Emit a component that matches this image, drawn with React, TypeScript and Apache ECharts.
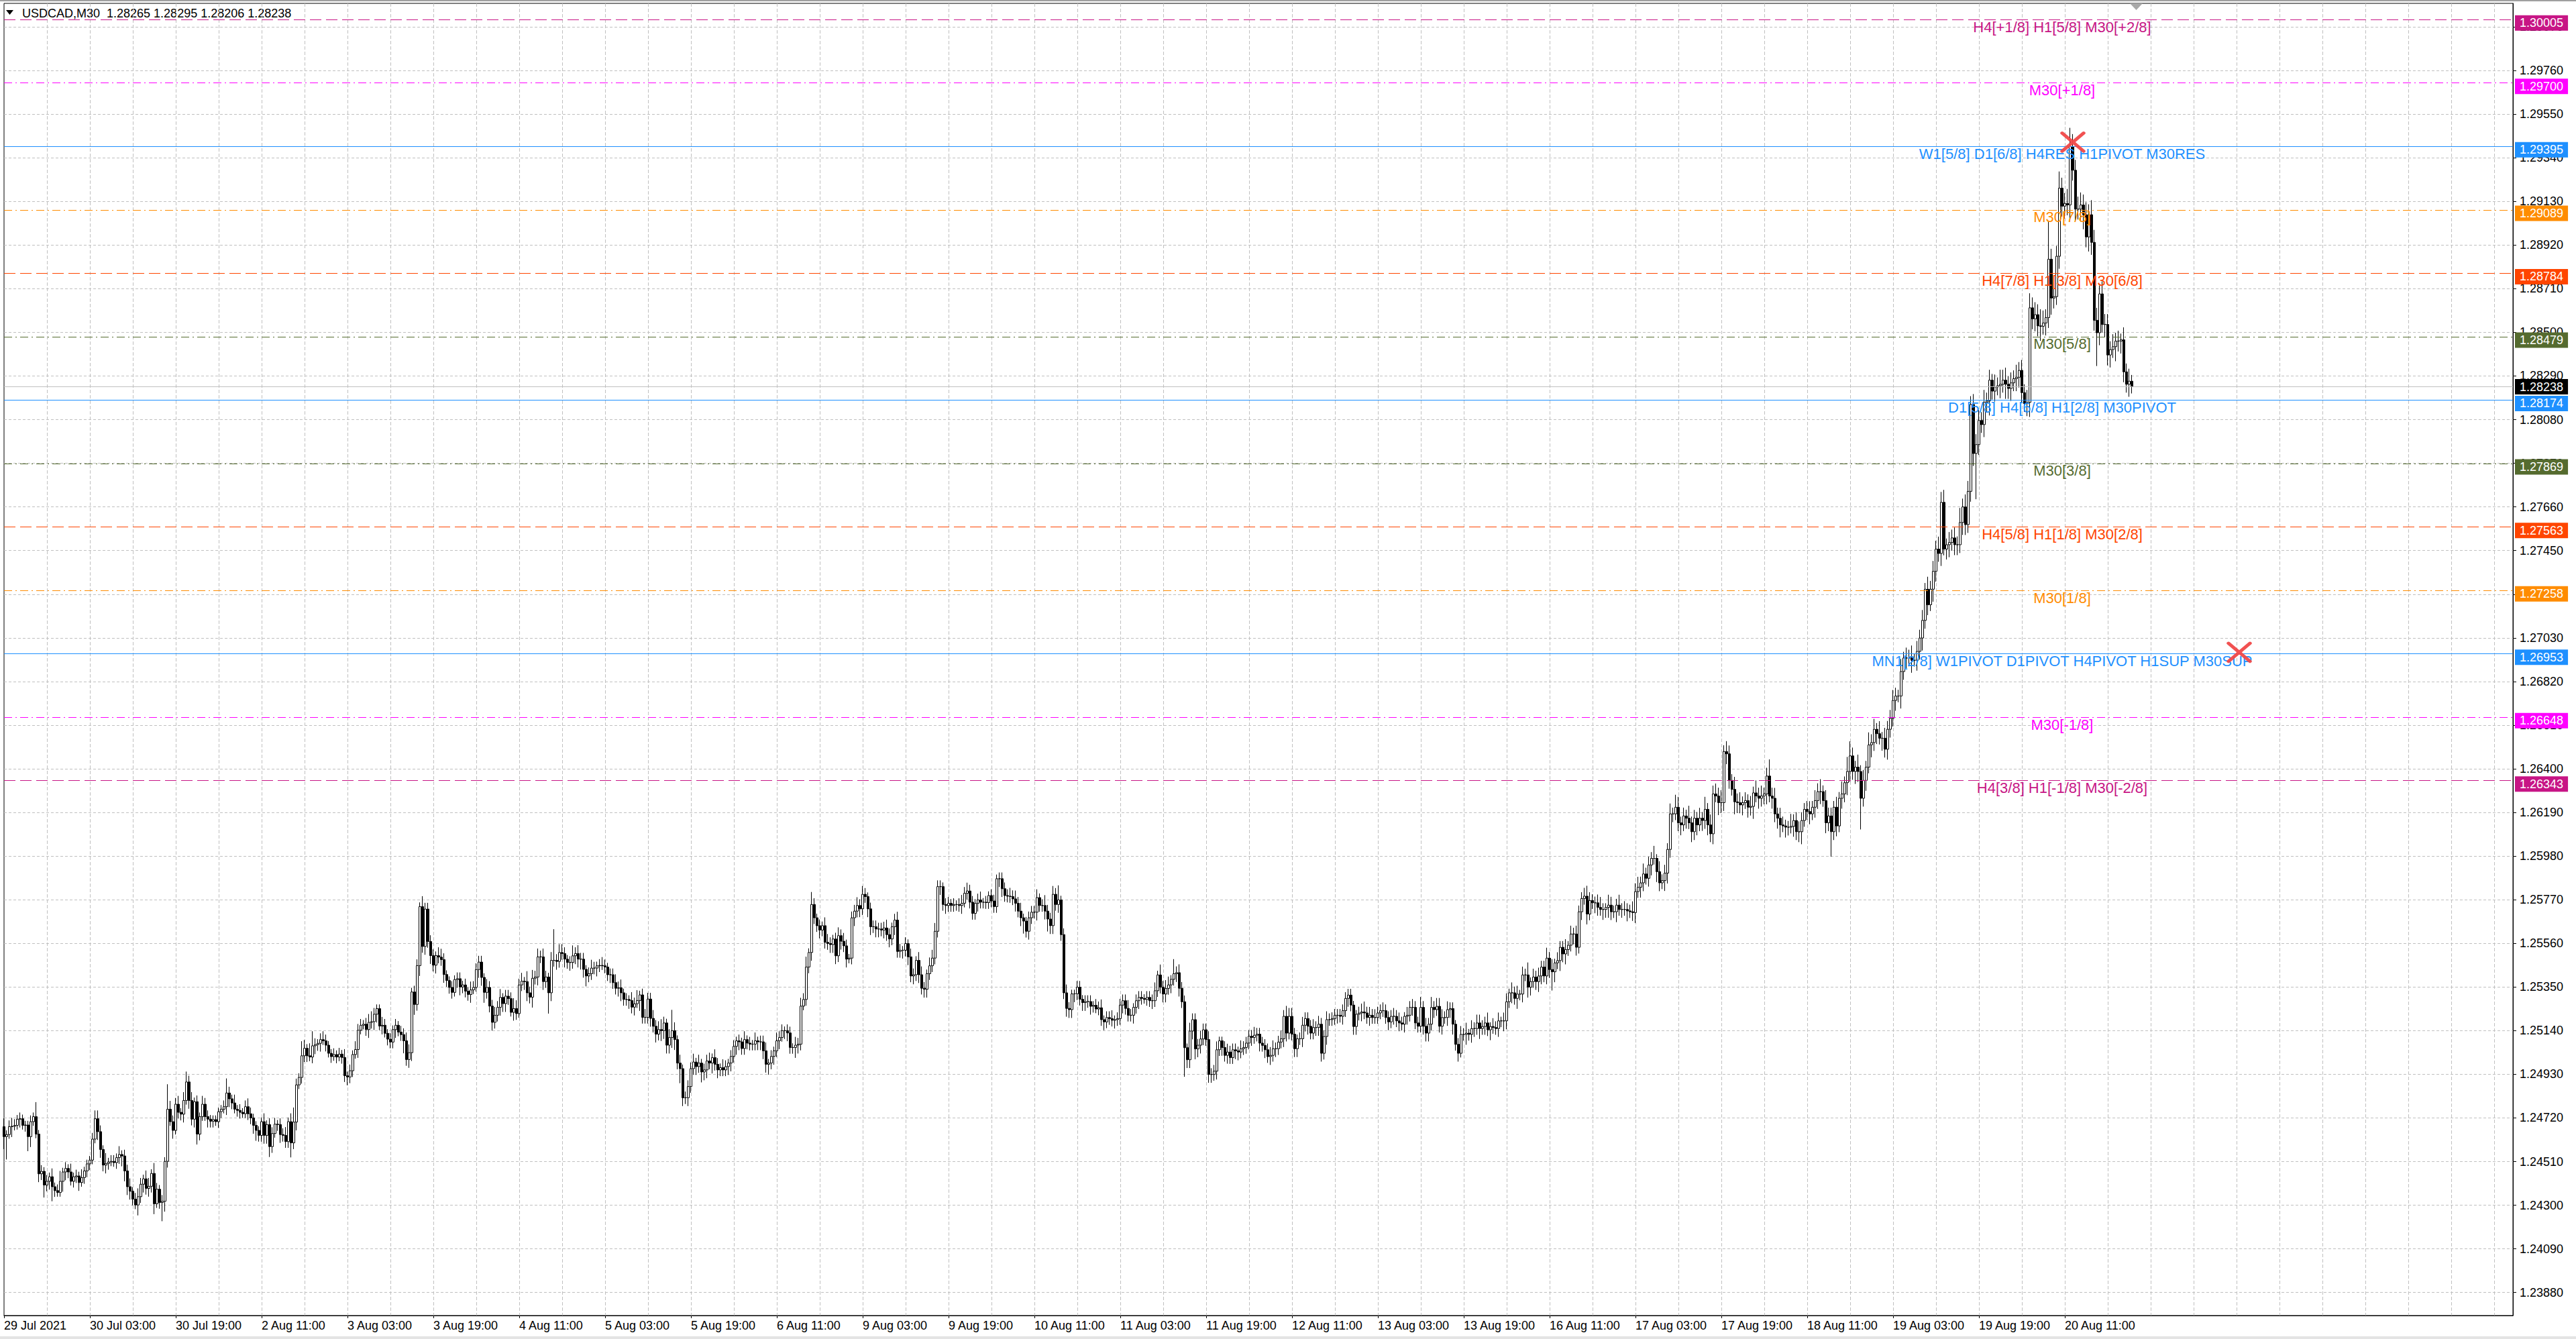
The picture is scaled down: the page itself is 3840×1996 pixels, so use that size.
import React, { useEffect, useRef } from "react";
import * as echarts from "echarts";

const FONT = "'Liberation Sans', Arial, Helvetica, sans-serif";

const titleText = "USDCAD,M30  1.28265 1.28295 1.28206 1.28238";

// time-axis tick labels (one every 32 M30 bars)
const xTickLabels = [
  "29 Jul 2021", "30 Jul 03:00", "30 Jul 19:00", "2 Aug 11:00", "3 Aug 03:00", "3 Aug 19:00",
  "4 Aug 11:00", "5 Aug 03:00", "5 Aug 19:00", "6 Aug 11:00", "9 Aug 03:00", "9 Aug 19:00",
  "10 Aug 11:00", "11 Aug 03:00", "11 Aug 19:00", "12 Aug 11:00", "13 Aug 03:00", "13 Aug 19:00",
  "16 Aug 11:00", "17 Aug 03:00", "17 Aug 19:00", "18 Aug 11:00", "19 Aug 03:00", "19 Aug 19:00",
  "20 Aug 11:00",
];
const BARS_PER_LABEL = 32;
const BARS_PER_GRID = 16;
const TOTAL_SLOTS = 936; // bars + empty right shift

// price-axis tick labels
const yTicks = [
  1.2388, 1.2409, 1.243, 1.2451, 1.2472, 1.2493, 1.2514, 1.2535, 1.2556, 1.2577,
  1.2598, 1.2619, 1.264, 1.2661, 1.2682, 1.2703, 1.2724, 1.2745, 1.2766, 1.2787,
  1.2808, 1.2829, 1.285, 1.2871, 1.2892, 1.2913, 1.2934, 1.2955, 1.2976, 1.2997,
];
const Y_MIN = 1.237692;
const Y_MAX = 1.30083;

// closes, in 0.00001 above 1.20000
const firstOpen = 4678;
const closesWeek1 = [
  4630, 4640, 4678, 4680, 4684, 4714, 4716, 4684, 4686, 4630, 4702, 4726, 4642, 4451, 4463, 4397,
  4415, 4437, 4389, 4370, 4361, 4415, 4460, 4477, 4460, 4415, 4437, 4441, 4409, 4433, 4465, 4499,
  4517, 4618, 4716, 4654, 4568, 4493, 4501, 4508, 4511, 4505, 4529, 4544, 4537, 4465, 4389, 4367,
  4329, 4301, 4341, 4401, 4427, 4381, 4391, 4453, 4307, 4377, 4313, 4319, 4511, 4762, 4702, 4660,
  4786, 4747, 4738, 4804, 4893, 4804, 4714, 4798, 4642, 4726,
];
const closesWeek2 = [
  4786, 4726, 4714, 4704, 4712, 4702,
  4750, 4762, 4774, 4840, 4812, 4792, 4762, 4756, 4747, 4740, 4774, 4740, 4720, 4684, 4660, 4636,
  4702, 4636, 4688, 4582, 4645, 4690, 4688, 4640, 4636, 4606, 4702, 4600, 4700, 4879, 4915, 5019,
  5055, 5019, 5013, 5067, 5073, 5079, 5097, 5091, 5070, 5031, 5015, 5025, 5013, 5027, 5011, 4923,
  4917, 4947, 5025, 5049, 5142, 5166, 5171, 5145, 5180, 5183, 5219, 5246, 5162, 5166, 5127, 5099,
  5085, 5145, 5166, 5133, 5121, 5091, 5001, 5034, 5326, 5266, 5453, 5737, 5545, 5725, 5569, 5501,
  5455, 5501, 5494, 5482, 5410, 5381, 5348, 5324, 5386, 5390, 5350, 5360, 5330, 5314, 5336, 5348,
  5434, 5470, 5396, 5324, 5348, 5258, 5180, 5214, 5252, 5300, 5270, 5306, 5294, 5228, 5246, 5222,
  5360, 5378, 5376, 5322, 5301, 5392, 5398, 5495, 5495, 5376, 5398, 5322, 5478, 5478, 5473, 5516,
  5511, 5484, 5468, 5468, 5500, 5511, 5484, 5484, 5435, 5403, 5414, 5441, 5441, 5452, 5454, 5452,
  5446, 5409, 5409, 5371, 5344, 5346, 5322, 5290, 5290, 5285, 5253, 5269, 5285, 5312, 5204, 5204,
  5292, 5199, 5161, 5123, 5145, 5140, 5177, 5070, 5107, 5140, 5097, 4984, 4957, 4817, 4817, 4871,
  4957, 4989, 4967, 4984, 4941, 4951, 4994, 4984, 5010, 4978, 4951, 4962, 4951, 4967, 4984, 5016,
  5064, 5091, 5086, 5054, 5097, 5080, 5075, 5075, 5091, 5086, 5086, 5043, 4978, 4984, 5016, 5043,
  5091, 5107, 5140, 5140, 5129, 5059, 5059, 5070, 5075, 5258, 5290, 5446, 5516, 5747, 5683, 5645,
  5624, 5645, 5565, 5559, 5554, 5581, 5500, 5597, 5570, 5548,
];
const closesWeek3 = [
  5484, 5489, 5683, 5715, 5742, 5726,
  5796, 5785, 5726, 5640, 5640, 5629, 5629, 5624, 5634, 5602, 5581, 5640, 5672, 5521, 5527, 5527,
  5559, 5495, 5403, 5409, 5478, 5409, 5344, 5339, 5414, 5452, 5489, 5618, 5833, 5833, 5747, 5742,
  5753, 5742, 5747, 5747, 5742, 5753, 5801, 5812, 5758, 5704, 5753, 5769, 5758, 5758, 5756, 5790,
  5764, 5737, 5871, 5871, 5823, 5790, 5787, 5785, 5774, 5753, 5715, 5683, 5667, 5618, 5683, 5710,
  5710, 5780, 5742, 5742, 5715, 5677, 5645, 5796, 5747, 5769, 5602, 5322, 5247, 5241, 5317, 5317,
  5349, 5291, 5275, 5280, 5280, 5257, 5262, 5244, 5250, 5193, 5182, 5203, 5198, 5190, 5193, 5198,
  5263, 5284, 5247, 5214, 5214, 5252, 5284, 5300, 5295, 5290, 5300, 5284, 5284, 5332, 5408, 5349,
  5316, 5343, 5360, 5387, 5414, 5419, 5344, 5279, 5058, 5000, 5138, 5193, 5052, 5070, 5100, 5144,
  5097, 4929, 4929, 4945, 5048, 5091, 5059, 5021, 5037, 5010, 5048, 5043, 5037, 5053, 5059, 5080,
  5113, 5107, 5118, 5123, 5080, 5069, 5048, 5015, 5021, 5053, 5053, 5085, 5101, 5209, 5128, 5209,
  5123, 5053, 5101, 5101, 5166, 5198, 5161, 5128, 5155, 5155, 5171, 5031, 5112, 5193, 5193, 5198,
  5214, 5214, 5209, 5236, 5295, 5311, 5263, 5160, 5219, 5225, 5230, 5225, 5203, 5214, 5203, 5203,
  5225, 5236, 5236, 5203, 5182, 5209, 5209, 5187, 5177, 5171, 5209, 5214, 5252, 5252, 5177, 5161,
  5252, 5161, 5128, 5171, 5252, 5241, 5257, 5161, 5203, 5203, 5241, 5246, 5171, 5074, 5031, 5122,
  5122, 5128, 5122, 5150, 5150, 5177, 5150, 5160, 5177, 5144,
];
const closesWeek4 = [
  5160, 5155, 5150, 5187, 5187, 5187,
  5279, 5322, 5322, 5295, 5316, 5316, 5408, 5408, 5349, 5376, 5398, 5376, 5403, 5446, 5403, 5489,
  5434, 5423, 5466, 5477, 5541, 5509, 5530, 5551, 5605, 5605, 5541, 5712, 5776, 5787, 5701, 5766,
  5755, 5755, 5733, 5723, 5723, 5733, 5744, 5712, 5712, 5744, 5723, 5723, 5723, 5716, 5712, 5708,
  5809, 5830, 5851, 5894, 5873, 5937, 5969, 5969, 5905, 5851, 5862, 5898, 6012, 6183, 6183, 6215,
  6140, 6130, 6173, 6162, 6140, 6097, 6162, 6130, 6162, 6151, 6205, 6130, 6087, 6279, 6269, 6237,
  6237, 6483, 6472, 6344, 6301, 6241, 6237, 6226, 6237, 6247, 6215, 6219, 6284, 6269, 6258, 6269,
  6279, 6365, 6269, 6258, 6183, 6162, 6130, 6125, 6119, 6119, 6123, 6151, 6097, 6097, 6151, 6205,
  6194, 6183, 6215, 6247, 6290, 6290, 6247, 6140, 6173, 6097, 6215, 6125, 6258, 6279, 6333, 6387,
  6462, 6387, 6408, 6387, 6258, 6344, 6408, 6515, 6526, 6590, 6569, 6547, 6547, 6494, 6590, 6643,
  6729, 6750, 6750, 6868, 6933, 6933, 6933, 6922, 6922, 6965, 7029, 7114, 7264, 7189, 7264, 7350,
  7457, 7436, 7682, 7457, 7478, 7489, 7511, 7478, 7478, 7585, 7660, 7575, 7735, 8153, 7917, 7960,
  8076, 8056, 8163, 8170, 8270, 8217, 8237, 8243, 8250, 8270, 8250, 8230, 8257, 8277, 8284, 8317,
  8210, 8157, 8163, 8618, 8565, 8585, 8531, 8529, 8545, 8571, 8852, 8665, 8672, 8866, 9194, 9107,
  9120, 9113, 9394, 9280, 9093, 9093, 9113, 9066, 8959, 9066, 8933, 8558, 8498, 8685, 8538, 8538,
  8391, 8417, 8431, 8458, 8458, 8464, 8310, 8250, 8265, 8238,
];
// last bar exactly as in the title: O H L C
const lastBar = { open: 8265, high: 8295, low: 8206, close: 8238 };

// wick lengths in pips (base-36 digit per bar), 16 bars per string
const wickUp = [
  "4234323222327232", "3242352324232422", "2344325233242334", "2343244253232c43",
  "3424534232433222", "2237324232343222", "2423332334247327", "4267323432232324",
  "2324332345322432", "3232334423325333", "3244322323323243", "3332433434233354",
  "3425343434324f34", "4323534332343234", "3233434232435234", "334345324a424233",
  "3424233424324323", "3232423242334232", "4332332434352632", "3244323434323343",
  "4323333334323432", "3243244324443323", "3232343433234232", "3323333434342233",
  "3423533437234322", "3323332334233423", "3334323332333425", "3442734332433343",
  "3433422343332433", "3343333344334354", "4323433343433433", "3333333223453434",
  "3343334343243433", "5343534443433234", "3524344335243424", "4253424362434335",
  "3524335243433454", "3345325433534335", "4535343625343536", "5343634353635454",
  "6354364534353645", "3484535433634543", "4535463544353637", "7436353645363544",
  "5436354635453645", "4656354547465455", "5464536475645464", "5467565864i57585",
  "5796566565766465", "5464536463",
];
const wickDown = [
  "6b25224237522436", "3473225432334233", "3224434322335544", "3253434352395324",
  "2334243453224332", "3324432332233453", "3445323433373423", "3323434232323233",
  "4332422343442423", "3342363445353434", "3433433324433342", "2445334334443243",
  "23443534343a4343", "3434344545333432", "3343344334342533", "3434354445537434",
  "3343544353433344", "3443333334444534", "3424433543233433", "4333444343423434",
  "3344344343434334", "3434343443333434", "3333342333343333", "3334433334346343",
  "3433464434334444", "3344343233433343", "3433343432334333", "44343443e4445443",
  "3443434343344333", "3433434343433443", "3443434334443433", "3434343443433433",
  "3333434343443433", "3444343343445342", "3534435343533435", "4353534354345434",
  "4953545335434353", "3543545435343534", "5354345354355443", "4535354535454536",
  "5454365453546354", "4535456354354563", "453546354c453546", "5465f45364536454",
  "4536454635464536", "546356455465456m", "5465745464756465", "5467565746585465",
  "657565675765g646", "5647565463",
];

// Murrey-math / pivot levels
const levelPrices = [
  1.30005, 1.297, 1.29395, 1.29089, 1.28784, 1.28479, 1.28174,
  1.27869, 1.27563, 1.27258, 1.26953, 1.26648, 1.26343,
];
const levelNames = [
  "H4[+1/8] H1[5/8] M30[+2/8]", "M30[+1/8]", "W1[5/8] D1[6/8] H4RES H1PIVOT M30RES",
  "M30[7/8]", "H4[7/8] H1[3/8] M30[6/8]", "M30[5/8]", "D1[5/8] H4[6/8] H1[2/8] M30PIVOT",
  "M30[3/8]", "H4[5/8] H1[1/8] M30[2/8]", "M30[1/8]",
  "MN1[2/8] W1PIVOT D1PIVOT H4PIVOT H1SUP M30SUP", "M30[-1/8]", "H4[3/8] H1[-1/8] M30[-2/8]",
];
const levelColors = [
  "#C71585", "#FF00FF", "#1E90FF", "#FF8C00", "#FF4500", "#556B2F", "#1E90FF",
  "#556B2F", "#FF4500", "#FF8C00", "#1E90FF", "#FF00FF", "#C71585",
];
const levelStyles = [
  "dash", "dashdot", "solid", "dashdot", "dash", "dashdot", "solid",
  "dashdot", "dash", "dashdot", "solid", "dashdot", "dash",
];
const LEVEL_LABEL_BAR = "767";
const currentPrice = 1.28238;

// cross markers (bar slot, price)
const crossMarks: [string, number][] = [
  ["771", 1.29415],
  ["833", 1.2696],
];

const dashTypes: Record<string, any> = {
  dash: [17, 7],
  dashdot: [12, 5, 2, 5],
  solid: "solid",
};

function buildCandles() {
  const closes = [...closesWeek1, ...closesWeek2, ...closesWeek3, ...closesWeek4];
  const up = wickUp.join("");
  const dn = wickDown.join("");
  const out: number[][] = [];
  let prev = firstOpen;
  const toP = (v: number) => +(1.2 + v / 100000).toFixed(5);
  closes.forEach((c, i) => {
    if (i === closes.length - 1) {
      out.push([toP(lastBar.open), toP(lastBar.close), toP(lastBar.low), toP(lastBar.high)]);
      return;
    }
    const o = prev;
    const u = parseInt(up[i] || "3", 36);
    const d = parseInt(dn[i] || "3", 36);
    const hi = Math.max(o, c) + u * 10;
    const lo = Math.min(o, c) - d * 10;
    out.push([toP(o), toP(c), toP(lo), toP(hi)]);
    prev = c;
  });
  return out;
}

export default function App() {
  const ref = useRef<HTMLDivElement>(null);

  useEffect(() => {
    document.body.style.margin = "0";
    if (!ref.current) return;
    const chart = echarts.init(ref.current, undefined, { renderer: "svg" });
    const categories = Array.from({ length: TOTAL_SLOTS }, (_, i) => String(i));
    const labelAt = (i: number) => i % BARS_PER_LABEL === 0 && i / BARS_PER_LABEL < xTickLabels.length;

    const boxLabel = (text: string, bg: string, dy: number) => ({
      show: true,
      position: "end",
      distance: 3,
      offset: [0, dy],
      formatter: text,
      color: "#ffffff",
      backgroundColor: bg,
      padding: [3, 7, 2, 7],
      fontSize: 18,
      lineHeight: 18,
      fontFamily: FONT,
    });

    const markLineData: any[] = levelPrices.map((p, k) => ({
      yAxis: p,
      lineStyle: { color: levelColors[k], type: dashTypes[levelStyles[k]], width: 1 },
      label: boxLabel(p.toFixed(5), levelColors[k], 5),
    }));
    markLineData.push({
      yAxis: currentPrice,
      lineStyle: { color: "#C0C0C0", type: "solid", width: 1 },
      label: boxLabel(currentPrice.toFixed(5), "#000000", 0),
    });

    const markPointData = levelPrices.map((p, k) => ({
      coord: [LEVEL_LABEL_BAR, p],
      symbol: "circle",
      symbolSize: 0,
      itemStyle: { color: "rgba(0,0,0,0)" },
      label: {
        show: true,
        position: "bottom",
        distance: 0,
        formatter: levelNames[k],
        color: levelColors[k],
        fontSize: 22,
        lineHeight: 22,
        fontFamily: FONT,
      },
    }));

    const option: any = {
      animation: false,
      backgroundColor: "#ffffff",
      grid: {
        left: 6,
        top: 5,
        width: 3740,
        height: 1956,
        show: true,
        borderColor: "#000000",
        borderWidth: 1,
        backgroundColor: "#ffffff",
        containLabel: false,
        outerBoundsMode: "none",
      },
      xAxis: {
        type: "category",
        data: categories,
        boundaryGap: false,
        axisLine: { show: true, onZero: false, lineStyle: { color: "#000000", width: 1 } },
        axisTick: {
          show: true,
          interval: (i: number) => labelAt(i),
          length: 4,
          lineStyle: { color: "#000000" },
        },
        axisLabel: {
          show: true,
          interval: (i: number) => labelAt(i),
          formatter: (v: string) => {
            const i = Number(v);
            return i % BARS_PER_LABEL === 0 ? xTickLabels[i / BARS_PER_LABEL] ?? "" : "";
          },
          align: "left",
          margin: 6,
          color: "#000000",
          fontSize: 18,
          fontFamily: FONT,
        },
        splitLine: {
          show: true,
          interval: (i: number) => i % BARS_PER_GRID === 0 && i > 0,
          lineStyle: { color: "#C0C0C0", type: [5, 3], width: 1 },
        },
      },
      yAxis: {
        type: "value",
        position: "right",
        min: Y_MIN,
        max: Y_MAX,
        axisLine: { show: true, onZero: false, lineStyle: { color: "#000000", width: 1 } },
        axisTick: { show: true, customValues: yTicks, length: 5, lineStyle: { color: "#000000" } },
        axisLabel: {
          show: true,
          customValues: yTicks,
          formatter: (v: number) => v.toFixed(5),
          margin: 10,
          color: "#000000",
          fontSize: 18,
          fontFamily: FONT,
        },
        splitLine: { show: true, lineStyle: { color: "#C0C0C0", type: [4, 3], width: 1 } },
      },
      series: [
        {
          type: "candlestick",
          data: buildCandles(),
          barWidth: 3,
          large: false,
          clip: false,
          silent: true,
          itemStyle: {
            color: "#ffffff",
            color0: "#000000",
            borderColor: "#000000",
            borderColor0: "#000000",
            borderWidth: 1,
          },
          markLine: {
            silent: true,
            precision: 5,
            symbol: ["none", "none"],
            animation: false,
            emphasis: { disabled: true },
            data: markLineData,
          },
          markPoint: {
            silent: true,
            animation: false,
            emphasis: { disabled: true },
            data: markPointData,
          },
        },
        {
          type: "scatter",
          data: crossMarks,
          symbol: "path://M0,0L10,10M10,0L0,10",
          symbolSize: [32, 27],
          silent: true,
          z: 6,
          itemStyle: {
            color: "rgba(0,0,0,0)",
            borderColor: "#F04848",
            borderWidth: 5,
            borderCap: "round",
            opacity: 0.95,
          },
        },
      ],
      graphic: [
        { type: "rect", silent: true, shape: { x: 0, y: 0, width: 3840, height: 2 }, style: { fill: "#A0A0A0" } },
        { type: "rect", silent: true, shape: { x: 0, y: 1992, width: 3840, height: 4 }, style: { fill: "#E4E4E4" } },
        {
          type: "polygon",
          silent: true,
          shape: { points: [[9, 15], [20, 15], [14.5, 22]] },
          style: { fill: "#000000" },
        },
        {
          type: "text",
          silent: true,
          x: 33,
          y: 20,
          style: {
            text: titleText,
            fill: "#000000",
            fontSize: 18,
            fontFamily: FONT,
            verticalAlign: "middle",
          },
        },
        {
          type: "polygon",
          silent: true,
          shape: { points: [[3175, 5], [3194, 5], [3184.5, 15]] },
          style: { fill: "#A8A8A8" },
        },
      ],
    };

    chart.setOption(option);
    return () => chart.dispose();
  }, []);

  return (
    <div
      ref={ref}
      style={{ position: "absolute", left: 0, top: 0, width: 3840, height: 1996, background: "#fff" }}
    />
  );
}
